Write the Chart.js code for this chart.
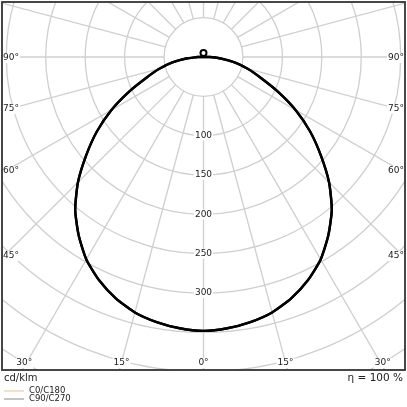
<!DOCTYPE html>
<html>
<head>
<meta charset="utf-8">
<script src="https://cdn.jsdelivr.net/npm/chart.js@4.4.0/dist/chart.umd.min.js"></script>
<style>
  html, body { margin: 0; padding: 0; background: #fff; }
  #wrap { width: 407px; height: 407px; }
</style>
</head>
<body>
<div id="wrap"><canvas id="ldc" width="407" height="407"></canvas></div>
<script>
// gamma angles (deg from nadir) and intensities in cd/klm
const gammaAngles = [0, 5, 10, 15, 20, 25, 30, 35, 40, 45, 50, 55, 60, 65, 70, 75, 80, 85, 90];
const c0c180 = [348, 346, 342, 336, 326, 313, 297, 276, 253, 225, 194, 165, 135, 104, 77, 58, 40, 22, 8];
const c90c270 = [348, 346, 342, 336, 326, 313, 297, 276, 253, 225, 194, 165, 135, 104, 77, 58, 40, 22, 8];

const ringValues = [50, 100, 150, 200, 250, 300, 350, 400, 450, 500];
const ringLabels = [100, 150, 200, 250, 300];
const spokeAngles = [0, 15, 30, 45, 60, 75, 90, 105, 120, 135, 150, 165, 180, 195, 210, 225, 240, 255, 270, 285, 300, 315, 330, 345];
const sideAngleLabels = [90, 75, 60, 45];
const bottomAngleLabels = [-30, -15, 0, 15, 30];

const seriesNames = ['C0/C180', 'C90/C270'];
const legendColors = ['#f2bd8f', '#8a8a8a'];
const unitText = 'cd/klm';
const efficiencyText = 'η = 100 %';

const FONT = '"DejaVu Sans", sans-serif';

// turn one C-plane pair into x/y points (left half = second plane)
function planePoints(values) {
  const pts = [];
  for (let i = gammaAngles.length - 1; i >= 0; i--) pts.push(polar(-gammaAngles[i], values[i]));
  for (let i = 1; i < gammaAngles.length; i++) pts.push(polar(gammaAngles[i], values[i]));
  pts.push(pts[0]);
  return pts;
}
function polar(deg, r) {
  const t = deg * Math.PI / 180;
  return { x: r * Math.sin(t), y: -r * Math.cos(t) };
}

function labelBox(ctx, text, x, y, align) {
  const w = ctx.measureText(text).width;
  let x0 = x - w / 2;
  if (align === 'left') x0 = x;
  if (align === 'right') x0 = x - w;
  ctx.fillStyle = '#fff';
  ctx.fillRect(x0 - 1, y - 5, w + 2, 10);
  ctx.fillStyle = '#222';
  ctx.textAlign = align;
  ctx.textBaseline = 'middle';
  ctx.fillText(text, x, y);
}

const polarGrid = {
  id: 'polarGrid',
  beforeDatasetsDraw(chart) {
    const ctx = chart.ctx;
    const { left, top, right, bottom } = chart.chartArea;
    const xs = chart.scales.x, ys = chart.scales.y;
    const cx = xs.getPixelForValue(0), cy = ys.getPixelForValue(0);

    ctx.save();
    ctx.beginPath();
    ctx.rect(left, top, right - left, bottom - top);
    ctx.clip();
    ctx.strokeStyle = '#cfcfcf';
    ctx.lineWidth = 1.3;

    ringValues.forEach(r => {
      const rx = xs.getPixelForValue(r) - cx;
      const ry = cy - ys.getPixelForValue(r);
      ctx.beginPath();
      ctx.ellipse(cx, cy, rx, ry, 0, 0, Math.PI * 2);
      ctx.stroke();
    });

    spokeAngles.forEach(a => {
      const p0 = polar(a, ringValues[0]);
      const p1 = polar(a, 700);
      ctx.beginPath();
      ctx.moveTo(xs.getPixelForValue(p0.x), ys.getPixelForValue(p0.y));
      ctx.lineTo(xs.getPixelForValue(p1.x), ys.getPixelForValue(p1.y));
      ctx.stroke();
    });

    ctx.font = '9px ' + FONT;
    ringLabels.forEach(v => {
      labelBox(ctx, String(v), cx, ys.getPixelForValue(-v), 'center');
    });

    // angle labels where the spokes leave the frame
    sideAngleLabels.forEach(a => {
      const t = a * Math.PI / 180;
      const r = xs.max / Math.sin(t);
      const py = ys.getPixelForValue(-r * Math.cos(t)) - (a < 90 ? 2 : -1);
      labelBox(ctx, a + '°', left + 1, py, 'left');
      labelBox(ctx, a + '°', right - 1, py, 'right');
    });
    bottomAngleLabels.forEach(a => {
      const t = a * Math.PI / 180;
      const r = -ys.min / Math.cos(t);
      let px = xs.getPixelForValue(r * Math.sin(t));
      px = Math.max(left + 12, Math.min(right - 12, px));
      labelBox(ctx, Math.abs(a) + '°', px + (a < 0 ? 2 : a > 0 ? -2 : 0), bottom - 7, 'center');
    });
    ctx.restore();
  },
  afterDraw(chart) {
    const ctx = chart.ctx;
    const { left, top, right, bottom } = chart.chartArea;
    ctx.save();
    ctx.strokeStyle = '#333';
    ctx.lineWidth = 1.8;
    ctx.strokeRect(left, top, right - left, bottom - top);

    ctx.fillStyle = '#222';
    ctx.textBaseline = 'middle';
    ctx.font = '10px ' + FONT;
    ctx.textAlign = 'left';
    ctx.fillText(unitText, left + 2, bottom + 8);
    ctx.font = '10.5px ' + FONT;
    ctx.textAlign = 'right';
    ctx.fillText(efficiencyText, right - 2, bottom + 8);

    ctx.font = '8.5px ' + FONT;
    ctx.textAlign = 'left';
    seriesNames.forEach((name, i) => {
      const y = bottom + 21 + i * 8;
      ctx.strokeStyle = legendColors[i];
      ctx.lineWidth = 1;
      ctx.beginPath();
      ctx.moveTo(left + 2, y);
      ctx.lineTo(left + 22, y);
      ctx.stroke();
      ctx.fillStyle = '#222';
      ctx.fillText(name, left + 27, y);
    });
    ctx.restore();
  }
};

new Chart(document.getElementById('ldc'), {
  type: 'scatter',
  data: {
    datasets: [
      {
        label: seriesNames[0],
        data: planePoints(c0c180),
        showLine: true,
        borderColor: '#000',
        borderWidth: 2.4,
        pointRadius: 0,
        tension: 0.2
      },
      {
        label: seriesNames[1],
        data: planePoints(c90c270),
        showLine: true,
        borderColor: '#000',
        borderWidth: 2.4,
        pointRadius: 0,
        tension: 0.2
      },
      {
        label: 'luminaire',
        data: [{ x: 0, y: 5 }],
        pointStyle: 'circle',
        pointRadius: 3,
        borderWidth: 2,
        borderColor: '#000',
        backgroundColor: '#fff'
      }
    ]
  },
  options: {
    responsive: false,
    animation: false,
    layout: { autoPadding: false, padding: { left: 2, right: 2, top: 2, bottom: 37 } },
    scales: {
      x: { type: 'linear', min: -255.4, max: 255.4, display: false },
      y: { type: 'linear', min: -397.7, max: 69.9, display: false }
    },
    plugins: {
      legend: { display: false },
      tooltip: { enabled: false }
    }
  },
  plugins: [polarGrid]
});
</script>
</body>
</html>
